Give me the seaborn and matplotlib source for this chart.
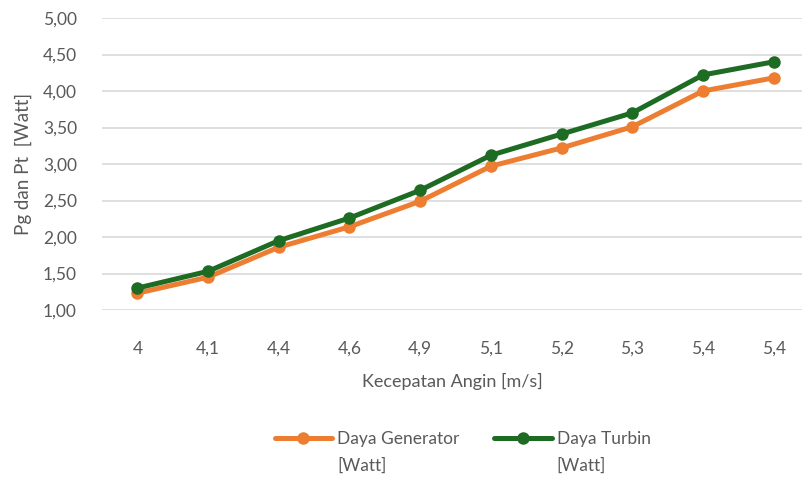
import matplotlib
matplotlib.use("Agg")
import matplotlib.pyplot as plt
import seaborn as sns
import numpy as np
import pandas as pd
from matplotlib.lines import Line2D

categories = ["4", "4,1", "4,4", "4,6", "4,9", "5,1", "5,2", "5,3", "5,4", "5,4"]
daya_generator = [1.23, 1.45, 1.86, 2.14, 2.49, 2.97, 3.22, 3.51, 4.00, 4.18]
daya_turbin = [1.30, 1.53, 1.95, 2.26, 2.64, 3.12, 3.41, 3.70, 4.22, 4.40]
series_names = ["Daya Generator", "Daya Turbin"]
unit_label = "[Watt]"
y_ticks = [1.0, 1.5, 2.0, 2.5, 3.0, 3.5, 4.0, 4.5, 5.0]

sns.set_theme(style="white")
plt.rcParams['font.family'] = ['Lato', 'DejaVu Sans']
text_color = "#595959"

pos = np.arange(len(categories))
df = pd.DataFrame({
    "pos": np.concatenate([pos, pos]),
    "val": daya_generator + daya_turbin,
    "series": [series_names[0]] * len(pos) + [series_names[1]] * len(pos),
})

fig = plt.figure(figsize=(8.02, 4.84), dpi=100)
ax = fig.add_axes([102 / 802, 1 - 310 / 484, 700 / 802, 292 / 484])

palette = {series_names[0]: "#ED7D31", series_names[1]: "#1E6B24"}
sns.lineplot(data=df, x="pos", y="val", hue="series", palette=palette,
             marker="o", markersize=9, linewidth=3.6, markeredgewidth=0,
             ax=ax, legend=False)

ax.set_xlim(-0.5, 9.4)
ax.set_ylim(1.0, 5.0)
ax.set_yticks(y_ticks)
ax.set_yticklabels([f"{v:.2f}".replace(".", ",") for v in y_ticks])
ax.set_xticks(pos)
ax.set_xticklabels(categories)
ax.yaxis.grid(True, color="#D9D9D9", linewidth=1.2)
ax.xaxis.grid(False)
for s in ax.spines.values():
    s.set_visible(False)
ax.tick_params(axis="both", colors=text_color, labelsize=12.5, length=0)
ax.tick_params(axis="x", pad=22)
ax.tick_params(axis="y", pad=18)
ax.set_xlabel("Kecepatan Angin [m/s]", color=text_color, fontsize=13, labelpad=12)
ax.set_ylabel("Pg dan Pt  [Watt]", color=text_color, fontsize=13.5, labelpad=8)

handles, labels = [], []
for n in series_names:
    handles.append(Line2D([], [], color=palette[n], linewidth=3.6, marker="o",
                          markersize=9, markeredgewidth=0))
    labels.append(n)
    handles.append(Line2D([], [], color="none"))
    labels.append(unit_label)
leg = fig.legend(handles, labels, loc="center", bbox_to_anchor=(0.577, 0.066),
                 ncol=2, frameon=False, fontsize=12.5, handlelength=3.3,
                 columnspacing=2.0, handletextpad=0.3, labelspacing=0.6)
for t in leg.get_texts():
    t.set_color(text_color)

fig.savefig("out.png", dpi=100)
